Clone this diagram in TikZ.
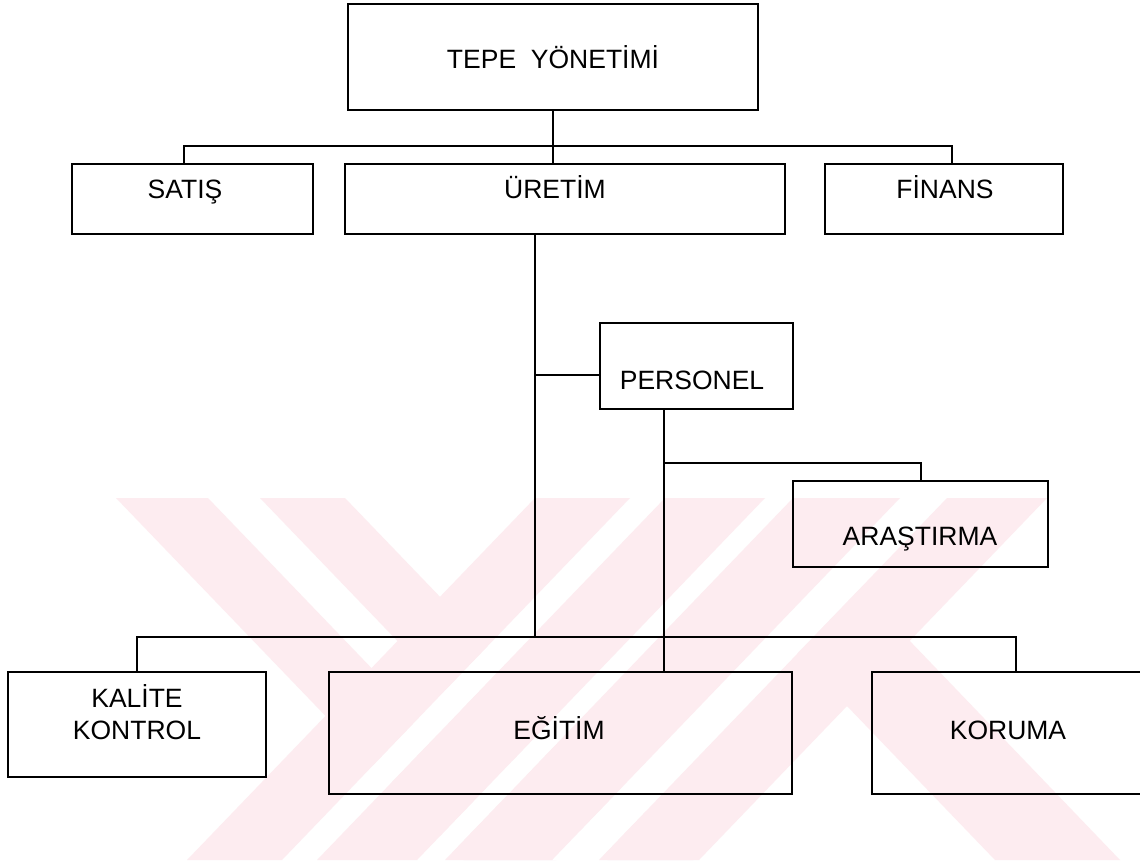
\documentclass[tikz,border=0pt]{standalone}
\usepackage{fontspec}
\setmainfont{Liberation Sans}
\definecolor{wm}{RGB}{253,236,240}
\begin{document}
\begin{tikzpicture}[x=1pt,y=-1pt,
  box/.style={draw=black, line width=2.2pt, rectangle, inner sep=0pt, outer sep=0pt},
  lbl/.style={anchor=base, inner sep=0pt, font=\fontsize{26.5pt}{31pt}\selectfont},
  link/.style={draw=black, line width=2.2pt},
  band/.style={fill=wm, draw=none},
  gap/.style={fill=white, draw=none}]
\clip (0,0) rectangle (1140,863);
\fill[white] (0,0) rectangle (1140,863);

% pale striped emblem behind the chart: falling stripes first
\fill[band] (116,498) -- (208,498) -- (556,860) -- (464,860) -- cycle;
\fill[band] (260,498) -- (345,498) -- (693,860) -- (608,860) -- cycle;
% white gaps of the rising stripes cut through the falling ones
\fill[gap] (630,498) -- (665,498) -- (317,860) -- (282,860) -- cycle;
\fill[gap] (765,498) -- (793,498) -- (445,860) -- (417,860) -- cycle;
\fill[gap] (900,498) -- (947,498) -- (599,860) -- (552,860) -- cycle;
% rising stripes
\fill[band] (535,498) -- (630,498) -- (282,860) -- (187,860) -- cycle;
\fill[band] (665,498) -- (765,498) -- (417,860) -- (317,860) -- cycle;
\fill[band] (793,498) -- (900,498) -- (552,860) -- (445,860) -- cycle;
\fill[band] (947,498) -- (1047,498) -- (699,860) -- (599,860) -- cycle;
\fill[band] (797,654) -- (860,589) -- (1120,860) -- (995,860) -- cycle;

% boxes
\node[box, minimum width=410pt, minimum height=106pt] (tepe) at (553,57) {};
\node[box, minimum width=241pt, minimum height=70pt] (satis) at (192.5,199) {};
\node[box, minimum width=440pt, minimum height=70pt] (uretim) at (565,199) {};
\node[box, minimum width=238pt, minimum height=70pt] (finans) at (944,199) {};
\node[box, minimum width=193pt, minimum height=86pt] (personel) at (696.5,366) {};
\node[box, minimum width=255pt, minimum height=86pt] (arastirma) at (920.5,524) {};
\node[box, minimum width=258pt, minimum height=105pt] (kalite) at (137,724.5) {};
\node[box, minimum width=463pt, minimum height=122pt] (egitim) at (560.5,733) {};
\node[box, minimum width=288pt, minimum height=122pt] (koruma) at (1016,733) {};

% labels
\node[lbl] (tepe-t) at (553,68) {TEPE\ \ YÖNETİMİ};
\node[lbl] (satis-t) at (185,198) {SATIŞ};
\node[lbl] (uretim-t) at (555,198) {ÜRETİM};
\node[lbl] (finans-t) at (945,198) {FİNANS};
\node[lbl] (personel-t) at (692,389) {PERSONEL};
\node[lbl] (arastirma-t) at (920,545) {ARAŞTIRMA};
\node[lbl] (kalite-t1) at (137,707) {KALİTE};
\node[lbl] (kalite-t2) at (137,739) {KONTROL};
\node[lbl] (egitim-t) at (559,739) {EĞİTİM};
\node[lbl] (koruma-t) at (1008,739) {KORUMA};

% junction points of the connectors
\coordinate (sstub) at (184,146);
\coordinate (fstub) at (952,146);
\coordinate (ustem) at (535,637);
\coordinate (lbusL) at (137,637);
\coordinate (lbusR) at (1016,637);
\coordinate (pstem) at (664,463);
\coordinate (astub) at (921,463);

% connectors
\draw[link] (tepe.south) -- (tepe.south |- uretim.north);
\draw[link] (satis.north -| sstub) -- (sstub) -- (fstub) -- (finans.north -| fstub);
\draw[link] (uretim.south -| ustem) -- (ustem);
\draw[link] (kalite.north -| lbusL) -- (lbusL) -- (lbusR) -- (koruma.north -| lbusR);
\draw[link] ([yshift=-9pt]personel.west) -- ([yshift=-9pt]personel.west -| ustem);
\draw[link] (personel.south -| pstem) -- (egitim.north -| pstem);
\draw[link] (pstem) -- (astub) -- (arastirma.north -| astub);
\end{tikzpicture}
\end{document}
